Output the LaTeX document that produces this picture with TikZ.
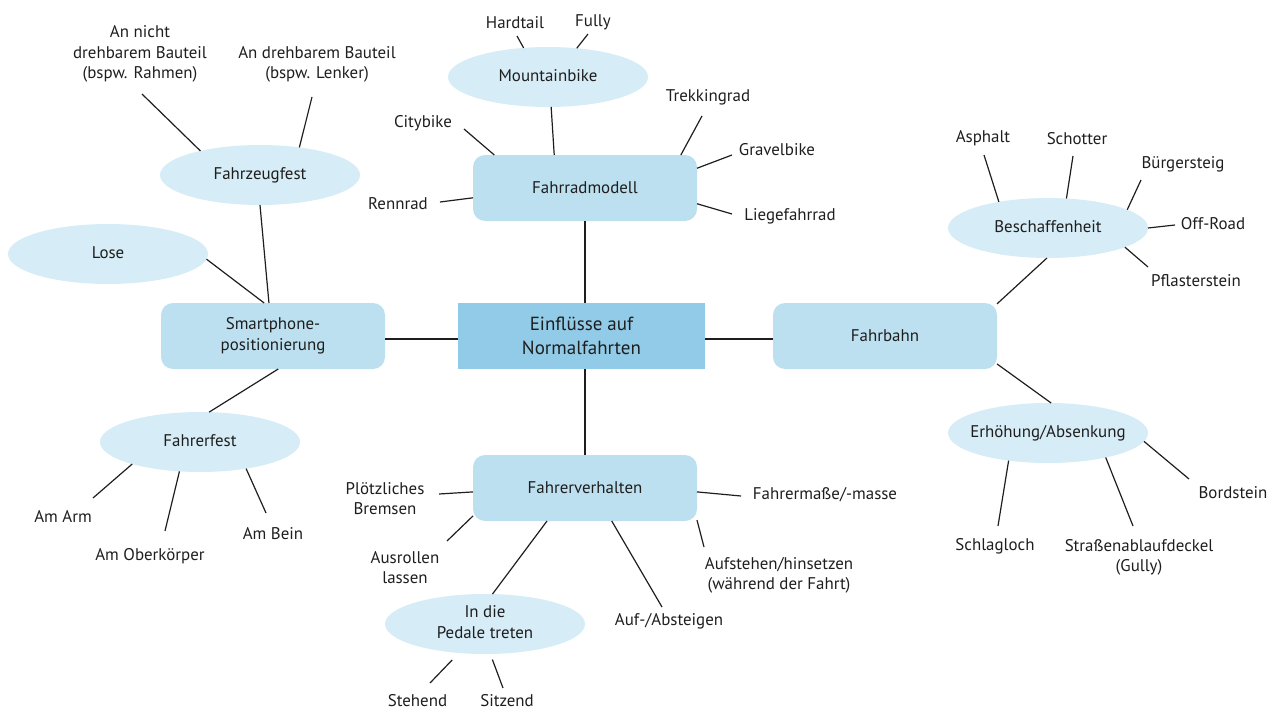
\documentclass[tikz,border=0pt]{standalone}
\usepackage{fontspec}
\setmainfont{PT Sans}
\usetikzlibrary{shapes.geometric}
\definecolor{hubc}{HTML}{92CBE8}
\definecolor{boxc}{HTML}{BDE0F0}
\definecolor{ellc}{HTML}{D6ECF6}
\definecolor{txtc}{HTML}{1E1E1E}
\newcommand{\ztext}[1]{\makebox[0pt]{\begin{tabular}{@{}c@{}}#1\end{tabular}}}
\begin{document}
\begin{tikzpicture}[x=1pt,y=-1pt,
  every node/.style={font=\fontsize{16.9}{20.5}\selectfont, text=txtc},
  hub/.style={rectangle, fill=hubc, minimum width=247pt, minimum height=66pt, inner sep=0pt, outer sep=0pt, align=center, font=\fontsize{19}{24}\selectfont},
  cat/.style={rectangle, rounded corners=12pt, fill=boxc, minimum width=224pt, minimum height=66pt, inner sep=0pt, outer sep=0pt, align=center},
  sub/.style={ellipse, fill=ellc, minimum width=200pt, minimum height=60pt, inner sep=0pt, outer sep=0pt},
  leaf/.style={align=center, inner sep=0pt},
  conn/.style={draw=txtc, line width=1.2pt}
]
\useasboundingbox (0,0) rectangle (1275,709);
% hub and categories
\node[hub] (c) at (581.5,336) {Einflüsse auf\\Normalfahrten};
\node[cat] (fm) at (585,188) {Fahrradmodell};
\node[cat] (sp) at (273,336) {Smartphone-\\positionierung};
\node[cat] (fb) at (885,336) {Fahrbahn};
\node[cat] (fv) at (585,488) {Fahrerverhalten};
% sub categories
\node[sub] (mtb) at (548,77) {\ztext{Mountainbike}};
\node[sub] (fz) at (260,175) {\ztext{Fahrzeugfest}};
\node[sub] (ls) at (108,254) {\ztext{Lose}};
\node[sub] (ff) at (200,442) {\ztext{Fahrerfest}};
\node[sub] (bs) at (1048,228) {\ztext{Beschaffenheit}};
\node[sub] (eh) at (1048,433) {\ztext{Erhöhung/Absenkung}};
\node[sub] (pd) at (485,624) {\ztext{In die\\Pedale treten}};
% leaves
\node[leaf] (l-hard) at (515,22.5) {Hardtail};
\node[leaf] (l-fully) at (593,22.5) {Fully};
\node[leaf] (l-city) at (423,123.5) {Citybike};
\node[leaf] (l-renn) at (398,203.5) {Rennrad};
\node[leaf] (l-trek) at (708,97.5) {Trekkingrad};
\node[leaf] (l-grav) at (777,149.5) {Gravelbike};
\node[leaf] (l-lieg) at (790,216.5) {Liegefahrrad};
\node[leaf] (l-annicht) at (140,54) {An nicht\\drehbarem Bauteil\\(bspw. Rahmen)};
\node[leaf] (l-andreh) at (317,64.5) {An drehbarem Bauteil\\(bspw. Lenker)};
\node[leaf] (l-asph) at (983,138.5) {Asphalt};
\node[leaf] (l-schot) at (1077,138.5) {Schotter};
\node[leaf] (l-buerg) at (1183,164.5) {Bürgersteig};
\node[leaf] (l-off) at (1213,223.5) {Off-Road};
\node[leaf] (l-pflas) at (1196,280.5) {Pflasterstein};
\node[leaf] (l-bord) at (1233,492.5) {Bordstein};
\node[leaf] (l-schlag) at (995,546.5) {Schlagloch};
\node[leaf] (l-gully) at (1139,557.5) {Straßenablaufdeckel\\(Gully)};
\node[leaf] (l-arm) at (63,516.5) {Am Arm};
\node[leaf] (l-ober) at (150,556.5) {Am Oberkörper};
\node[leaf] (l-bein) at (273,533.5) {Am Bein};
\node[leaf] (l-ploetz) at (385,498.5) {Plötzliches\\Bremsen};
\node[leaf] (l-ausr) at (405,567.5) {Ausrollen\\lassen};
\node[leaf] (l-auf) at (669,621.5) {Auf-/Absteigen};
\node[leaf] (l-aufst) at (779,575.5) {Aufstehen/hinsetzen\\(während der Fahrt)};
\node[leaf] (l-masse) at (825,494.5) {Fahrermaße/-masse};
\node[leaf] (l-steh) at (417.5,700.5) {Stehend};
\node[leaf] (l-sitz) at (507,700.5) {Sitzend};
% free line ends near the leaves
\coordinate (e-hard) at (517,36);
\coordinate (e-fully) at (588,34);
\coordinate (e-city) at (464,129);
\coordinate (e-renn) at (440,202);
\coordinate (e-trek) at (702,116);
\coordinate (e-grav) at (732,155);
\coordinate (e-lieg) at (732,214);
\coordinate (e-annicht) at (142,94);
\coordinate (e-andreh) at (312,97);
\coordinate (e-arm) at (93,498);
\coordinate (e-ober) at (165,531);
\coordinate (e-bein) at (266,513);
\coordinate (e-asph) at (984,155);
\coordinate (e-schot) at (1073,156);
\coordinate (e-buerg) at (1141,180);
\coordinate (e-off) at (1175,225);
\coordinate (e-pflas) at (1148,267);
\coordinate (e-schlag) at (998,526);
\coordinate (e-gully) at (1133,526);
\coordinate (e-bord) at (1189,479);
\coordinate (e-ploetz) at (439,494);
\coordinate (e-ausr) at (447,541);
\coordinate (e-auf) at (662,607);
\coordinate (e-aufst) at (704,547);
\coordinate (e-masse) at (741,496);
\coordinate (e-steh) at (430,683);
\coordinate (e-sitz) at (503,688);
% hub connectors
\draw[conn] (fm.south) -- (fm.south |- c.north);
\draw[conn] (fv.north) -- (fv.north |- c.south);
\draw[conn] ([yshift=-3pt]c.west) -- ([yshift=-3pt]c.west -| sp.east);
\draw[conn] ([yshift=-3pt]c.east) -- ([yshift=-3pt]c.east -| fb.west);
% category to sub category
\draw[conn] (mtb.-84.3) -- (fm.133.2);
\draw[conn] (fz.south) -- (sp.97);
\draw[conn] (ls.-3) -- (sp.105);
\draw[conn] (sp.-81.4) -- (ff.73.8);
\draw[conn] (fb.16.8) -- (bs.-92);
\draw[conn] (fb.-14) -- (eh.84.3);
\draw[conn] (fv.221) -- (pd.76);
% leaves
\draw[conn] (mtb.130.8) -- (e-hard);
\draw[conn] (mtb.45) -- (e-fully);
\draw[conn] (fm.160.3) -- (e-city);
\draw[conn] (fm.185.6) -- (e-renn);
\draw[conn] (fm.19.5) -- (e-trek);
\draw[conn] (fm.10) -- (e-grav);
\draw[conn] (fm.-8.6) -- (e-lieg);
\draw[conn] (fz.158.4) -- (e-annicht);
\draw[conn] (fz.35.3) -- (e-andreh);
\draw[conn] (ff.198.4) -- (e-arm);
\draw[conn] (ff.235.9) -- (e-ober);
\draw[conn] (ff.-30.4) -- (e-bein);
\draw[conn] (bs.152.1) -- (e-asph);
\draw[conn] (bs.58.2) -- (e-schot);
\draw[conn] (bs.13.7) -- (e-buerg);
\draw[conn] (bs.0) -- (e-off);
\draw[conn] (bs.-14.4) -- (e-pflas);
\draw[conn] (eh.215.3) -- (e-schlag);
\draw[conn] (eh.-23.4) -- (e-gully);
\draw[conn] (eh.-5.9) -- (e-bord);
\draw[conn] (fv.182) -- (e-ploetz);
\draw[conn] (fv.194.9) -- (e-ausr);
\draw[conn] (fv.-51.8) -- (e-auf);
\draw[conn] (fv.-16) -- (e-aufst);
\draw[conn] (fv.-2) -- (e-masse);
\draw[conn, shorten <=9.7pt] (pd.228.5) -- (e-steh);
\draw[conn, shorten <=6pt] (pd.-80) -- (e-sitz);
\end{tikzpicture}
\end{document}
